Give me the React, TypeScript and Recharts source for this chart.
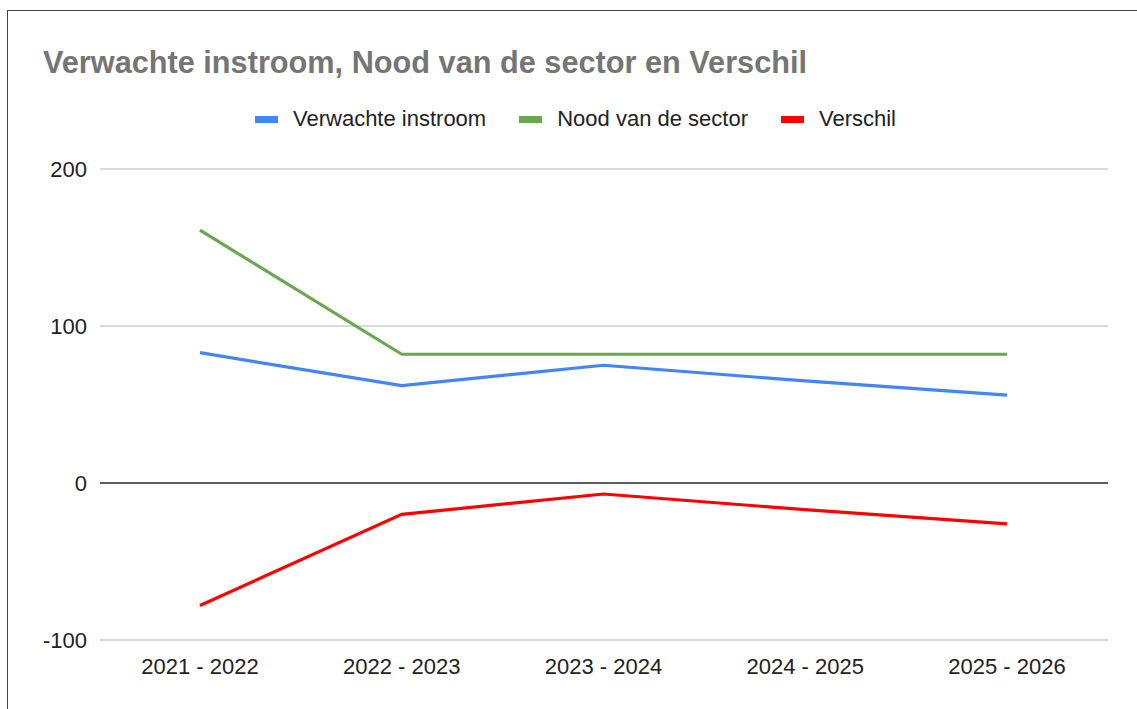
import React from 'react';
import {
  LineChart,
  Line,
  XAxis,
  YAxis,
  CartesianGrid,
  ReferenceLine,
  Legend
} from 'recharts';

const categories = ['2021 - 2022', '2022 - 2023', '2023 - 2024', '2024 - 2025', '2025 - 2026'];
const verwachteInstroom = [83, 62, 75, 65, 56];
const noodVanDeSector = [161, 82, 82, 82, 82];
const verschil = [-78, -20, -7, -17, -26];
const yTicks = [-100, 0, 100, 200];

const series = [
  { key: 'instroom', name: 'Verwachte instroom', color: '#4285f4' },
  { key: 'nood', name: 'Nood van de sector', color: '#6aa84f' },
  { key: 'verschil', name: 'Verschil', color: '#ff0000' }
];

const data = categories.map((c, i) => ({
  name: c,
  instroom: verwachteInstroom[i],
  nood: noodVanDeSector[i],
  verschil: verschil[i]
}));

const FONT = 'Arial, "Liberation Sans", sans-serif';

const LegendRow = () => (
  <div
    style={{
      display: 'flex',
      justifyContent: 'center',
      alignItems: 'center',
      paddingLeft: 14,
      fontFamily: FONT,
      fontSize: 22,
      lineHeight: '22px',
      color: '#222'
    }}
  >
    {series.map((s, i) => (
      <div key={s.key} style={{ display: 'flex', alignItems: 'center', marginLeft: i === 0 ? 0 : 33 }}>
        <span style={{ width: 23, height: 7, background: s.color, marginRight: 15, display: 'inline-block' }} />
        <span>{s.name}</span>
      </div>
    ))}
  </div>
);

export default function App() {
  return (
    <div style={{ position: 'fixed', left: 0, top: 0, width: 1137, height: 709, background: '#fff', overflow: 'hidden' }}>
      <div
        style={{
          position: 'absolute',
          left: 7,
          top: 10,
          right: -2,
          bottom: -2,
          borderTop: '1.5px solid #444',
          borderLeft: '1.5px solid #444'
        }}
      />
      <div
        style={{
          position: 'absolute',
          left: 43,
          top: 47,
          fontFamily: FONT,
          fontWeight: 'bold',
          fontSize: 30.7,
          lineHeight: '31px',
          color: '#757575',
          whiteSpace: 'nowrap'
        }}
      >
        Verwachte instroom, Nood van de sector en Verschil
      </div>
      <div style={{ position: 'absolute', left: 0, top: 0 }}>
        <LineChart
          width={1137}
          height={709}
          data={data}
          margin={{ top: 169, right: 29, bottom: 29, left: 0 }}
        >
          <CartesianGrid vertical={false} stroke="#cccccc" strokeWidth={1.5} />
          <XAxis
            dataKey="name"
            axisLine={false}
            tickLine={false}
            height={40}
            tickMargin={12}
            padding={{ left: 100, right: 101 }}
            tick={{ fill: '#222', fontSize: 22, fontFamily: FONT }}
          />
          <YAxis
            width={100}
            domain={[-100, 200]}
            ticks={yTicks}
            axisLine={false}
            tickLine={false}
            tickMargin={7}
            tick={{ fill: '#222', fontSize: 22, fontFamily: FONT }}
          />
          <ReferenceLine y={0} stroke="#333" strokeWidth={1.5} />
          <Legend
            layout="vertical"
            verticalAlign="middle"
            align="center"
            content={() => <LegendRow />}
            wrapperStyle={{ position: 'absolute', top: 108, left: 0, width: 1137 }}
          />
          {series.map((s) => (
            <Line
              key={s.key}
              type="linear"
              dataKey={s.key}
              name={s.name}
              stroke={s.color}
              strokeWidth={3.2}
              dot={false}
              activeDot={false}
              isAnimationActive={false}
            />
          ))}
        </LineChart>
      </div>
    </div>
  );
}
